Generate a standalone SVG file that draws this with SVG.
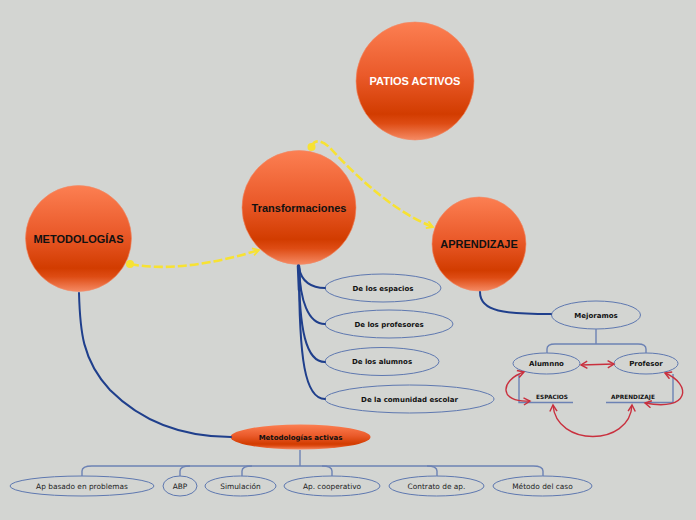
<svg xmlns="http://www.w3.org/2000/svg" width="696" height="520" viewBox="0 0 696 520">
<defs>
<linearGradient id="og" x1="0" y1="0" x2="0" y2="1">
<stop offset="0" stop-color="#fc7f52"/>
<stop offset="0.45" stop-color="#ea5a2a"/>
<stop offset="0.78" stop-color="#d23c00"/>
<stop offset="0.86" stop-color="#de4c14"/>
<stop offset="1" stop-color="#f58a64"/>
</linearGradient>
<marker id="ya" viewBox="0 0 10 10" refX="8" refY="5" markerWidth="9" markerHeight="9" markerUnits="userSpaceOnUse" orient="auto">
<path d="M1,1 L8,5 L1,9" fill="none" stroke="#f7e233" stroke-width="2"/>
</marker>
<marker id="ra" viewBox="0 0 10 10" refX="8" refY="5" markerWidth="9" markerHeight="9" markerUnits="userSpaceOnUse" orient="auto-start-reverse">
<path d="M1,1 L8,5 L1,9" fill="none" stroke="#c9303e" stroke-width="1.6"/>
</marker>
</defs>
<style>
.big{fill:url(#og);stroke:#f08a66;stroke-width:0.6}
.bt{font-family:"Liberation Sans",Arial,sans-serif;font-weight:bold;font-size:11px;fill:#111;text-anchor:middle}
.el{fill:none;stroke:#5e78b0;stroke-width:1}
.lb{font-family:"DejaVu Sans",Verdana,sans-serif;font-weight:bold;font-size:7px;fill:#111;text-anchor:middle}
.lr{font-family:"DejaVu Sans",Verdana,sans-serif;font-size:7.4px;fill:#222;text-anchor:middle}
.tr{fill:none;stroke:#1f3f8c;stroke-width:2;stroke-linecap:round}
.br{fill:none;stroke:#6c82b4;stroke-width:1.4}
.yl{fill:none;stroke:#f7e233;stroke-width:2.6;stroke-dasharray:9 3}
.rd{fill:none;stroke:#c9303e;stroke-width:1.4}
</style>
<rect width="696" height="520" fill="#d3d5d2"/>

<g id="patios"><circle class="big" cx="415" cy="81" r="59"/><text class="bt" x="415" y="85" style="fill:#fff">PATIOS ACTIVOS</text></g>
<g id="transformaciones"><circle class="big" cx="299" cy="207.5" r="57"/><text class="bt" x="299" y="212">Transformaciones</text></g>
<g id="metodologias"><circle class="big" cx="78.5" cy="238.5" r="53"/><text class="bt" x="78.5" y="242.5">METODOLOGÍAS</text></g>
<g id="aprendizaje"><circle class="big" cx="479" cy="244" r="47"/><text class="bt" x="479" y="248">APRENDIZAJE</text></g>

<g id="espacios"><ellipse class="el" cx="383" cy="288" rx="58" ry="14"/><text class="lb" x="383" y="290.5">De los espacios</text></g>
<g id="profesores"><ellipse class="el" cx="389" cy="324" rx="64" ry="14"/><text class="lb" x="389" y="326.5">De los profesores</text></g>
<g id="alumnos"><ellipse class="el" cx="382" cy="361.5" rx="57" ry="14"/><text class="lb" x="382" y="364">De los alumnos</text></g>
<g id="comunidad"><ellipse class="el" cx="409.5" cy="399" rx="84.5" ry="14"/><text class="lb" x="409.5" y="401.5">De la comunidad escolar</text></g>

<g id="metactivas"><ellipse cx="300.5" cy="437" rx="70" ry="12.5" fill="url(#og)"/><text class="lb" x="300.5" y="439.5">Metodologías activas</text></g>
<g id="apbasado"><ellipse class="el" cx="82" cy="486" rx="72" ry="10"/><text class="lr" x="82" y="488.5">Ap basado en problemas</text></g>
<g id="abp"><ellipse class="el" cx="180" cy="486" rx="17" ry="10"/><text class="lr" x="180" y="488.5">ABP</text></g>
<g id="simulacion"><ellipse class="el" cx="240.5" cy="486" rx="35.5" ry="10"/><text class="lr" x="240.5" y="488.5">Simulación</text></g>
<g id="cooperativo"><ellipse class="el" cx="332" cy="486" rx="48" ry="10"/><text class="lr" x="332" y="488.5">Ap. cooperativo</text></g>
<g id="contrato"><ellipse class="el" cx="436.5" cy="486" rx="47.5" ry="10"/><text class="lr" x="436.5" y="488.5">Contrato de ap.</text></g>
<g id="metodocaso"><ellipse class="el" cx="542.5" cy="486" rx="49.5" ry="10"/><text class="lr" x="542.5" y="488.5">Método del caso</text></g>

<g id="mejoramos"><ellipse class="el" cx="596" cy="315" rx="44.5" ry="14"/><text class="lb" x="596" y="317.5">Mejoramos</text></g>
<g id="alumnno"><ellipse class="el" cx="546.5" cy="363.5" rx="33.5" ry="10.5"/><text class="lb" x="546.5" y="366">Alumnno</text></g>
<g id="profesor"><ellipse class="el" cx="646" cy="363.5" rx="32" ry="10.5"/><text class="lb" x="646" y="366">Profesor</text></g>
<g id="espacios2"><text class="lb" x="552" y="398.5" style="font-size:5.8px">ESPACIOS</text></g>
<g id="aprendizaje2"><text class="lb" x="633" y="398.5" style="font-size:5.8px">APRENDIZAJE</text></g>

<g id="connectors">
<path class="tr" d="M79,293 C80,330 82,360 110,390 C140,420 180,437 231,437"/>
<path class="tr" d="M299,267 C301,282 312,288 325,288"/>
<path class="tr" d="M299,267 C300,300 308,324 325,324"/>
<path class="tr" d="M299,267 C299,330 306,362 325,362"/>
<path class="tr" d="M299,267 C299,360 305,399 325,399"/>
<path class="tr" style="stroke-width:3.5" d="M298.5,266 L299.5,290"/>
<path class="tr" d="M480,292 C480,312 505,314 551,314"/>
<path class="br" d="M300,450 L300,466"/>
<path class="br" d="M82,476 L82,471 Q82,466 92,466 L533,466 Q543,466 543,471 L543,476"/>
<path class="br" d="M180,476 L180,471 Q180,466 190,466"/>
<path class="br" d="M242,476 L242,471 Q242,466 252,466"/>
<path class="br" d="M332,476 L332,471 Q332,466 322,466"/>
<path class="br" d="M437,476 L437,471 Q437,466 427,466"/>
<path class="br" d="M596,329 L596,344"/>
<path class="br" d="M547,353 L547,349 Q547,344 555,344 L638,344 Q646,344 646,349 L646,353"/>
<path class="br" d="M519,374 L519,402.5 L573,402.5"/>
<path class="br" d="M673,374 L673,402.5 L606,402.5"/>
<circle cx="130" cy="264" r="4" fill="#f7e233"/>
<path class="yl" marker-end="url(#ya)" d="M130,264 C170,272 220,262 259,250"/>
<circle cx="311.5" cy="147" r="4" fill="#f7e233"/>
<path class="yl" marker-end="url(#ya)" d="M311.5,147 C314,139 322,139 332,150 C360,180 395,212 433,227"/>
<path class="rd" marker-start="url(#ra)" marker-end="url(#ra)" d="M581,365 L614,364"/>
<path class="rd" marker-start="url(#ra)" marker-end="url(#ra)" d="M524,372 C500,380 498,403 530,401"/>
<path class="rd" marker-start="url(#ra)" marker-end="url(#ra)" d="M665,373 C692,384 690,412 645,403"/>
<path class="rd" marker-start="url(#ra)" marker-end="url(#ra)" d="M553,405 C556,447 630,447 632,405"/>
</g>
</svg>
